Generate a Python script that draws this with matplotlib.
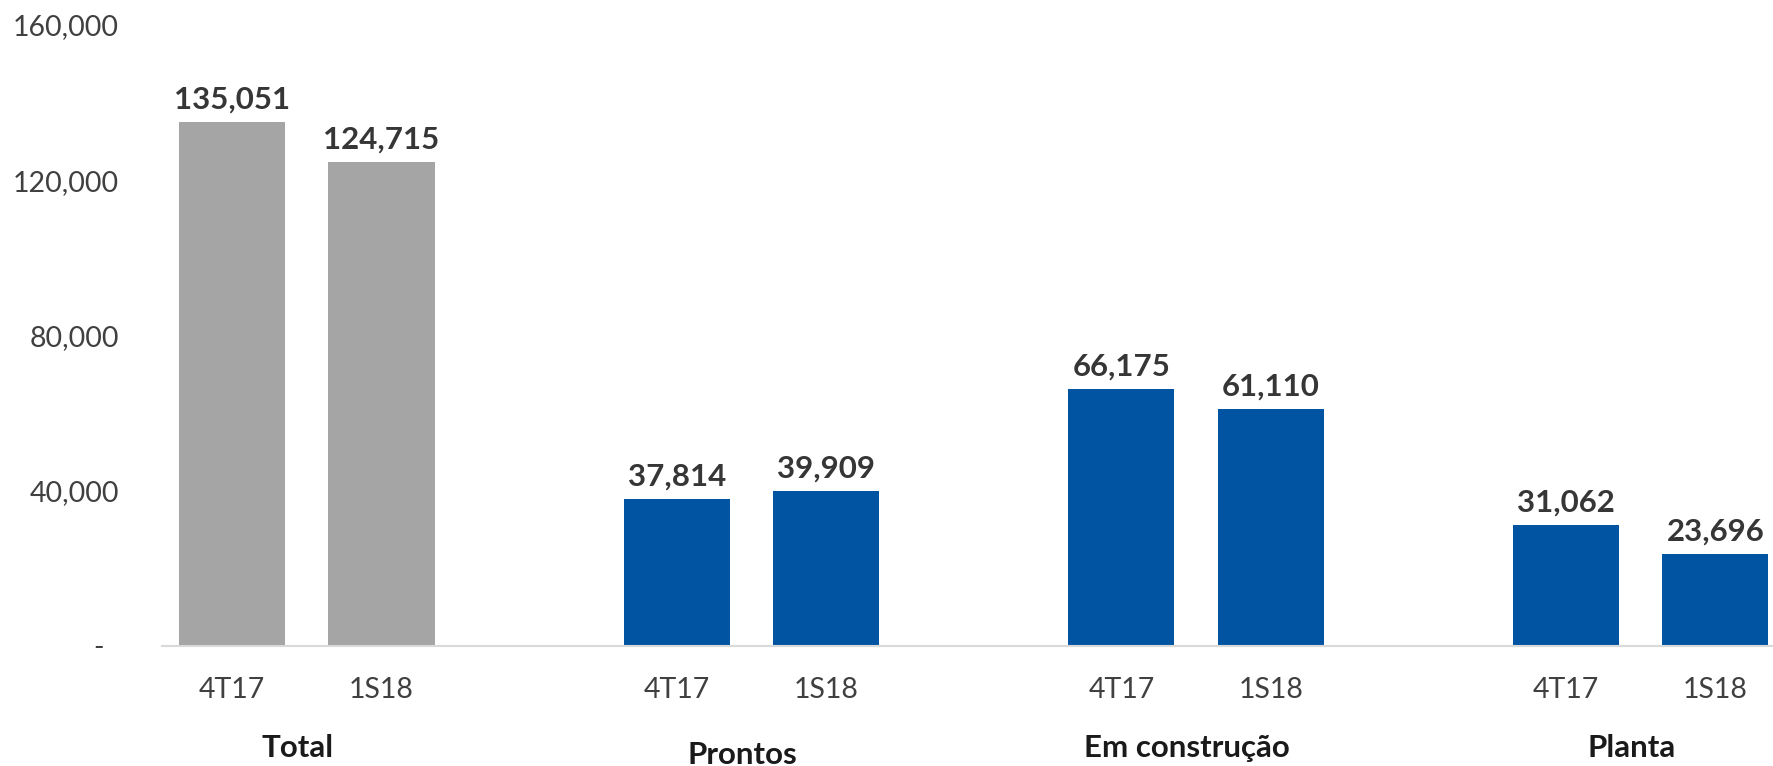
import matplotlib.pyplot as plt
import matplotlib.transforms as mtransforms
from matplotlib.ticker import FuncFormatter
import numpy as np

plt.rcParams['font.family'] = ['Lato', 'DejaVu Sans']

# dados
grupos = ["Total", "Prontos", "Em construção", "Planta"]
periodos = ["4T17", "1S18"]
valores_4t17 = [135051, 37814, 66175, 31062]
valores_1s18 = [124715, 39909, 61110, 23696]
cores_grupo = ["#A5A5A5", "#0054A1", "#0054A1", "#0054A1"]

fig = plt.figure(figsize=(17.74, 7.66), dpi=100)
ax = fig.add_axes([0.0913, 0.1567, 0.9087, 0.8107])

x = np.arange(len(grupos))
desloc = 0.168
largura = 0.239

posicoes = []
rotulos = []
for i, (a, b) in enumerate(zip(valores_4t17, valores_1s18)):
    for j, v in enumerate((a, b)):
        xp = x[i] + (-desloc if j == 0 else desloc)
        ax.bar(xp, v, width=largura, color=cores_grupo[i])
        ax.annotate(f"{v:,}", (xp, v), xytext=(0, 6), textcoords="offset points",
                    ha="center", va="bottom", fontsize=22.5, fontweight="bold",
                    color="#363636")
        posicoes.append(xp)
        rotulos.append(periodos[j])

ax.set_xlim(-0.326, 3.30)
ax.set_ylim(0, 160000)
ax.set_yticks([0, 40000, 80000, 120000, 160000])
ax.yaxis.set_major_formatter(FuncFormatter(lambda v, p: "-  " if v == 0 else f"{int(v):,}"))
ax.set_xticks(posicoes)
ax.set_xticklabels(rotulos)

ax.tick_params(axis="y", length=0, pad=31, labelsize=20.5, labelcolor="#404040")
ax.tick_params(axis="x", length=0, pad=22, labelsize=20.5, labelcolor="#404040")

for s in ["top", "right", "left"]:
    ax.spines[s].set_visible(False)
ax.spines["bottom"].set_color("#D9D9D9")
ax.spines["bottom"].set_linewidth(1.5)

# rótulos das categorias abaixo dos períodos
trans = mtransforms.blended_transform_factory(ax.transData, fig.transFigure)
for i, g in enumerate(grupos):
    yg = 0.015 if g == "Prontos" else 0.024
    ax.text(x[i] - 0.02, yg, g, transform=trans, ha="center", va="center",
            fontsize=22.5, fontweight="bold", color="#1A1A1A")

fig.savefig("out.png", dpi=100)
